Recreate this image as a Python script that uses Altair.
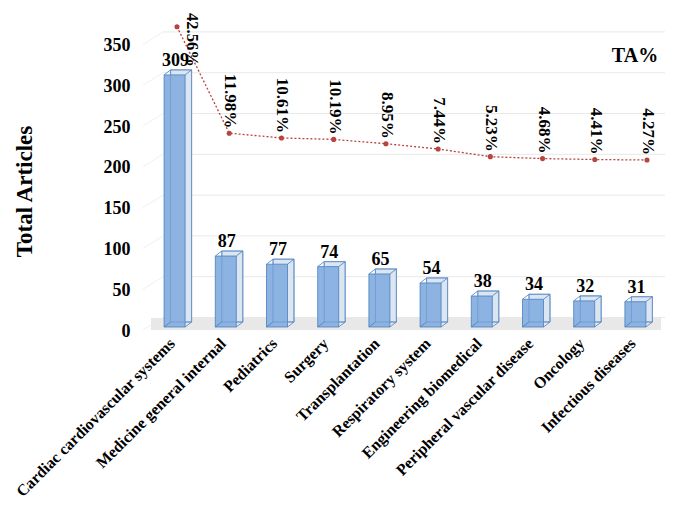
import altair as alt
import pandas as pd

categories = ["Cardiac cardiovascular systems", "Medicine general internal", "Pediatrics",
              "Surgery", "Transplantation", "Respiratory system", "Engineering biomedical",
              "Peripheral vascular disease", "Oncology", "Infectious diseases"]
articles = [309, 87, 77, 74, 65, 54, 38, 34, 32, 31]
ta_pct = [42.56, 11.98, 10.61, 10.19, 8.95, 7.44, 5.23, 4.68, 4.41, 4.27]
y_ticks = [0, 50, 100, 150, 200, 250, 300, 350]

df = pd.DataFrame({"cat": categories, "articles": articles, "ta": ta_pct,
                   "idx": list(range(len(categories))), "zero": [0] * len(categories)})
grid_df = pd.DataFrame({"v": y_ticks})
note_df = pd.DataFrame({"t": ["TA%"]})

FONT = "'Times New Roman', 'Liberation Serif', 'DejaVu Serif', serif"
RED = "#b8433f"
FRONT = "#8db3e2"
SIDE = "#dce6f2"
EDGE = "#4a7ebb"
DX, DY = 6.5, -5
BW = 21
HALF = BW / 2

xscale = alt.Scale(domain=categories, paddingInner=0.59, paddingOuter=0.295)
xaxis = alt.Axis(title=None, labelAngle=-45, labelAlign="right", labelBaseline="top",
                 labelFont=FONT, labelFontSize=16, labelFontWeight="bold", labelColor="black",
                 ticks=False, domain=False, labelPadding=8, labelLimit=400, grid=False,
                 labelOffset=-8)
yscale = alt.Scale(domain=[0, 377.5], nice=False)
yaxis = alt.Axis(values=y_ticks, title="Total Articles", titleFont=FONT, titleFontSize=23,
                 titleFontWeight="bold", titleColor="black", titleX=-125, titleY=172,
                 titleAlign="center", titleBaseline="middle", titleAngle=-90,
                 labelFont=FONT, labelFontSize=18, labelFontWeight="bold", labelColor="black",
                 ticks=False, domain=False, grid=False, labelPadding=19, labelOffset=4)


def X(field="cat"):
    return alt.X(f"{field}:N", scale=xscale, axis=xaxis, sort=categories)


def Y(field):
    return alt.Y(f"{field}:Q", scale=yscale, axis=yaxis)


base = alt.Chart(df)

grid = alt.Chart(grid_df).mark_rule(color="#e8e8e8", strokeWidth=1, yOffset=-9.5).encode(
    y=Y("v"), x=alt.value(14), x2=alt.value(516))
wall = alt.Chart(grid_df).mark_rule(color="#f0f0f0", strokeWidth=1, yOffset=3, y2Offset=-9.5).encode(
    y=Y("v"), y2="v:Q", x=alt.value(-6), x2=alt.value(14))
floor = alt.Chart(note_df).mark_rect(color="#e8e8e8").encode(
    x=alt.value(2), x2=alt.value(512), y=alt.value(299), y2=alt.value(311))

back = base.mark_bar(width=BW, fill=SIDE, stroke=EDGE, strokeWidth=0.8,
                     xOffset=DX, yOffset=DY, y2Offset=DY).encode(x=X(), y=Y("articles"))
front = base.mark_bar(width=BW, fill=FRONT, stroke=EDGE, strokeWidth=0.8).encode(
    x=X(), y=Y("articles"))
back_edges = base.mark_bar(width=BW, fillOpacity=0, stroke="#6a93ca", strokeWidth=0.7,
                           xOffset=DX, yOffset=DY, y2Offset=DY).encode(x=X(), y=Y("articles"))


def diag(xo, yfield):
    return base.mark_rule(color=EDGE, strokeWidth=0.8, xOffset=xo, x2Offset=xo + DX,
                          y2Offset=DY).encode(x=X(), x2="cat:N", y=Y(yfield), y2=f"{yfield}:Q")


diags = [diag(-HALF, "articles"), diag(HALF, "articles"), diag(HALF, "zero"), diag(-HALF, "zero")]

bar_labels = base.mark_text(font=FONT, fontSize=18, fontWeight="bold", color="black",
                            baseline="bottom", yOffset=-5, xOffset=1).encode(
    x=X(), y=Y("articles"), text="articles:Q")

note = alt.Chart(note_df).mark_text(font=FONT, fontSize=20, fontWeight="bold", color="black",
                                    align="center", baseline="middle").encode(
    x=alt.value(486), y=alt.value(37), text="t:N")

bars_layer = alt.layer(grid, wall, floor, back, front, back_edges, *diags, bar_labels, note)

lx = alt.X("cat:N", sort=categories,
           scale=alt.Scale(type="point", domain=categories, range=[28, 498], padding=0), axis=None)
ly = alt.Y("ta:Q", scale=alt.Scale(domain=[-43.70, 44.78], nice=False, zero=False), axis=None)

pbase = alt.Chart(df).transform_calculate(label="format(datum.ta, '.2f') + '%'")
line = pbase.mark_line(color=RED, strokeDash=[2, 2], strokeWidth=1.3).encode(x=lx, y=ly)
pts = pbase.mark_circle(size=26, color=RED, opacity=1).encode(x=lx, y=ly)
plabels = pbase.transform_filter("datum.idx > 0").mark_text(
    font=FONT, fontSize=17, fontWeight="bold", color="black", angle=90, align="right",
    baseline="middle", yOffset=-5, xOffset=1).encode(x=lx, y=ly, text="label:N")
plabel0 = pbase.transform_filter("datum.idx == 0").mark_text(
    font=FONT, fontSize=16.5, fontWeight="bold", color="black", angle=90, align="right",
    baseline="middle", xOffset=15, yOffset=40).encode(x=lx, y=ly, text="label:N")

line_layer = alt.layer(line, pts, plabels, plabel0)

chart = alt.layer(bars_layer, line_layer).resolve_scale(x="independent", y="independent").properties(
    width=512, height=308, autosize="none",
    padding={"left": 141, "top": 11, "right": 6, "bottom": 175}
).configure_view(stroke=None)

chart.save("out.html", embed_options={"renderer": "svg", "actions": False})
